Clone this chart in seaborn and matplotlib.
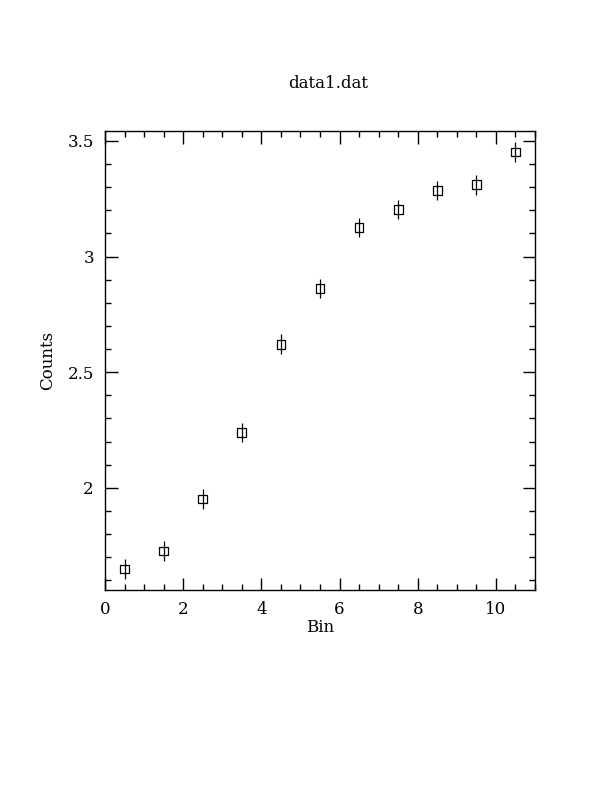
import numpy as np
import pandas as pd
import matplotlib
matplotlib.use("Agg")
import matplotlib.pyplot as plt
import seaborn as sns
from matplotlib.ticker import MultipleLocator, FormatStrFormatter

# data
bins = [0.5, 1.5, 2.5, 3.5, 4.5, 5.5, 6.5, 7.5, 8.5, 9.5, 10.5]
counts = [1.649, 1.727, 1.952, 2.238, 2.621, 2.861, 3.126, 3.203, 3.286, 3.31, 3.452]
errors = [0.042, 0.042, 0.042, 0.042, 0.042, 0.042, 0.042, 0.042, 0.042, 0.042, 0.042]

data = pd.DataFrame({"Bin": bins, "Counts": counts, "err": errors})

sns.set_style("ticks")
plt.rcParams['font.family'] = ['DejaVu Serif']
plt.rcParams['text.color'] = 'black'
plt.rcParams['axes.labelcolor'] = 'black'
plt.rcParams['xtick.color'] = 'black'
plt.rcParams['ytick.color'] = 'black'

fig = plt.figure(figsize=(6.12, 7.92), dpi=100)
ax = fig.add_axes([105 / 612, 1 - 590 / 792, 430 / 612, 459 / 792])

ax.errorbar(data["Bin"], data["Counts"], yerr=data["err"], fmt="none",
            ecolor="black", elinewidth=0.9, capsize=0)
sns.scatterplot(data=data, x="Bin", y="Counts", ax=ax, marker="s", s=40,
                facecolor="none", edgecolor="black", linewidth=0.9)

ax.set_xlim(0, 11)
ax.set_ylim(1.558, 3.543)
ax.xaxis.set_major_locator(MultipleLocator(2))
ax.xaxis.set_minor_locator(MultipleLocator(0.5))
ax.yaxis.set_major_locator(MultipleLocator(0.5))
ax.yaxis.set_minor_locator(MultipleLocator(0.1))
ax.yaxis.set_major_formatter(FormatStrFormatter("%g"))
ax.tick_params(which="both", direction="in", top=True, right=True,
               color="black", width=1)
ax.tick_params(which="major", length=9, labelsize=12, pad=8)
ax.tick_params(which="minor", length=4.5)
for s in ax.spines.values():
    s.set_linewidth(1)
    s.set_color("black")

ax.set_xlabel("Bin", fontsize=12, labelpad=1)
ax.set_ylabel("Counts", fontsize=12, labelpad=8)
fig.text(328 / 612, 1 - 83 / 792, "data1.dat", fontsize=12,
         ha="center", va="center")

fig.savefig("out.png", dpi=100)
